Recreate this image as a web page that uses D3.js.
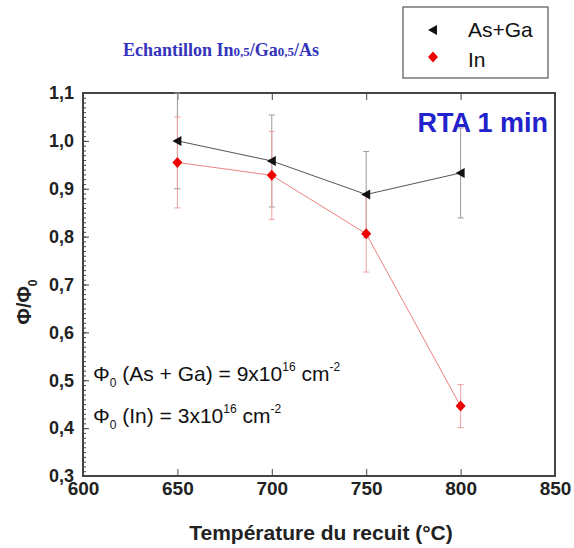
<!DOCTYPE html>
<html><head><meta charset="utf-8">
<script src="https://cdn.jsdelivr.net/npm/d3@7"></script>
<style>body{margin:0;background:#fff}svg{display:block}</style>
</head><body>
<script>
const temps = [650, 700, 750, 800];
const asGa = [1.0, 0.958, 0.888, 0.933];
const asGaErr = [0.1, 0.096, 0.09, 0.094];
const inVals = [0.955, 0.928, 0.806, 0.446];
const inErr = [0.095, 0.092, 0.08, 0.045];
const xTicks = [600, 650, 700, 750, 800, 850];
const yTicks = [0.3, 0.4, 0.5, 0.6, 0.7, 0.8, 0.9, 1.0, 1.1];

const W = 574, H = 548;
const m = {l: 83, r: 555, t: 93, b: 476};
const svg = d3.select("body").append("svg").attr("width", W).attr("height", H);
const x = d3.scaleLinear().domain([600, 850]).range([m.l, m.r]);
const y = d3.scaleLinear().domain([0.3, 1.1]).range([m.b, m.t]);
const font = "Liberation Sans, Arial, sans-serif";

// frame
svg.append("rect").attr("x", m.l).attr("y", m.t).attr("width", m.r - m.l).attr("height", m.b - m.t)
  .attr("fill", "none").attr("stroke", "#444").attr("stroke-width", 2);

// bottom axis
const xb = svg.append("g").attr("transform", `translate(0,${m.b})`)
  .call(d3.axisBottom(x).tickValues(xTicks).tickSize(-7).tickPadding(6).tickFormat(d3.format("d")));
const xt = svg.append("g").attr("transform", `translate(0,${m.t})`)
  .call(d3.axisTop(x).tickValues(xTicks.slice(1, -1)).tickSize(-7).tickFormat(""));
// left axis
const yl = svg.append("g").attr("transform", `translate(${m.l},0)`)
  .call(d3.axisLeft(y).tickValues(yTicks).tickSize(-6).tickPadding(9).tickFormat(d => d3.format(".1f")(d).replace(".", ",")));
const minor = d3.range(0.3, 1.1001, 0.01);
svg.append("g").attr("transform", `translate(${m.l},0)`)
  .call(d3.axisLeft(y).tickValues(minor).tickSize(-3).tickFormat(""));
svg.selectAll(".domain").remove();
svg.selectAll(".tick line").attr("stroke", "#444").attr("stroke-width", 1);
svg.selectAll(".tick text").attr("font-family", font).attr("font-size", 18).attr("font-weight", "bold").attr("fill", "#222");
xb.selectAll(".tick text").attr("font-size", 19);

// error bars
function errBars(vals, errs, color) {
  const g = svg.append("g").attr("stroke", color).attr("stroke-width", 1);
  temps.forEach((t, i) => {
    const cx = x(t), y1 = y(vals[i] + errs[i]), y2 = y(vals[i] - errs[i]);
    g.append("line").attr("x1", cx).attr("x2", cx).attr("y1", y1).attr("y2", y2);
    g.append("line").attr("x1", cx - 3).attr("x2", cx + 3).attr("y1", y1).attr("y2", y1);
    g.append("line").attr("x1", cx - 3).attr("x2", cx + 3).attr("y1", y2).attr("y2", y2);
  });
}
errBars(asGa, asGaErr, "#999");
errBars(inVals, inErr, "#f0a0a0");

const line = d3.line().x((d, i) => x(temps[i])).y(d => y(d));
svg.append("path").datum(asGa).attr("d", line).attr("fill", "none").attr("stroke", "#555").attr("stroke-width", 1);
svg.append("path").datum(inVals).attr("d", line).attr("fill", "none").attr("stroke", "#f08080").attr("stroke-width", 1);

const tri = "M-5,0L4,-5L4,5Z";
const dia = "M0,-5.5L5,0L0,5.5L-5,0Z";
svg.selectAll(".tri").data(asGa).join("path").attr("d", tri)
  .attr("transform", (d, i) => `translate(${x(temps[i])},${y(d)})`).attr("fill", "#111");
svg.selectAll(".dia").data(inVals).join("path").attr("d", dia)
  .attr("transform", (d, i) => `translate(${x(temps[i])},${y(d)})`).attr("fill", "#e00");

// legend
svg.append("rect").attr("x", 403).attr("y", 7).attr("width", 145).attr("height", 71)
  .attr("fill", "#fff").attr("stroke", "#555").attr("stroke-width", 1.2);
svg.append("path").attr("d", tri).attr("transform", "translate(433,30)").attr("fill", "#111");
svg.append("path").attr("d", dia).attr("transform", "translate(433,57)").attr("fill", "#e00");
svg.append("text").attr("x", 468).attr("y", 37).text("As+Ga").attr("font-family", font).attr("font-size", 21).attr("fill", "#111");
svg.append("text").attr("x", 468).attr("y", 67).text("In").attr("font-family", font).attr("font-size", 21).attr("fill", "#111");

// title
const tt = svg.append("text").attr("x", 123).attr("y", 56).attr("font-family", "Liberation Serif, Times New Roman, serif")
  .attr("font-size", 18).attr("font-weight", "bold").attr("fill", "#3333bb");
tt.append("tspan").text("Echantillon  In");
tt.append("tspan").text("0,5").attr("font-size", 13);
tt.append("tspan").text("/Ga");
tt.append("tspan").text("0,5").attr("font-size", 13);
tt.append("tspan").text("/As");

svg.append("text").attr("x", 548).attr("y", 132).attr("text-anchor", "end").text("RTA 1 min")
  .attr("font-family", font).attr("font-size", 27).attr("font-weight", "bold").attr("fill", "#2222cc");

// annotations
function ann(yb, parts) {
  const t = svg.append("text").attr("x", 93).attr("y", yb).attr("font-family", font).attr("font-size", 21).attr("fill", "#111");
  parts.forEach(p => {
    const s = t.append("tspan").text(p[0]);
    if (p[1] === "sub") s.attr("font-size", 12).attr("dy", 6);
    else if (p[1] === "sup") s.attr("font-size", 12).attr("dy", -10);
    else if (p[1] === "back") s.attr("dy", p[2]);
  });
}
ann(381, [["Φ"], ["0", "sub"], [" (As + Ga) = 9x10", "back", -6], ["16", "sup"], [" cm", "back", 10], ["-2", "sup"]]);
ann(423, [["Φ"], ["0", "sub"], [" (In) = 3x10", "back", -6], ["16", "sup"], [" cm", "back", 10], ["-2", "sup"]]);

// axis titles
svg.append("text").attr("x", 321).attr("y", 540).attr("text-anchor", "middle").text("Température du recuit (°C)")
  .attr("font-family", font).attr("font-size", 21).attr("font-weight", "bold").attr("fill", "#222");
const yt = svg.append("text").attr("transform", "translate(31,302) rotate(-90)").attr("text-anchor", "middle")
  .attr("font-family", font).attr("font-size", 20).attr("font-weight", "bold").attr("fill", "#222");
yt.append("tspan").text("Φ/Φ");
yt.append("tspan").text("0").attr("font-size", 12).attr("dy", 6);
</script>
</body></html>
